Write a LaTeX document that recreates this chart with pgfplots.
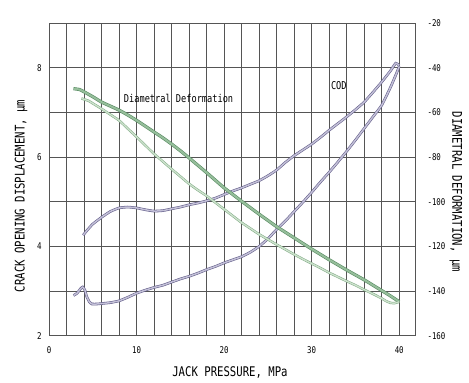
\documentclass[border=0pt]{standalone}
\usepackage{pgfplots}
\pgfplotsset{compat=1.18}
\usepackage{fontspec}
\setmainfont[FakeStretch=0.8]{DejaVu Sans Mono}
\newfontfamily\gfont[FakeStretch=0.8]{DejaVu Sans Mono}
\definecolor{codc}{RGB}{95,90,135}
\definecolor{codl}{RGB}{195,192,215}
\definecolor{gdark}{RGB}{88,140,98}
\definecolor{gdl}{RGB}{150,190,155}
\definecolor{glight}{RGB}{125,170,130}
\definecolor{gll}{RGB}{205,225,205}
\definecolor{gridc}{RGB}{85,85,85}
\begin{document}
\begin{tikzpicture}
\begin{axis}[
  scale only axis, width=366bp, height=312.7bp,
  xmin=0, xmax=41.8, ymin=2, ymax=9,
  xtick={0,10,20,30,40}, minor xtick={2,4,6,8,12,14,16,18,22,24,26,28,32,34,36,38,40},
  ytick={2,4,6,8}, minor ytick={3,5,7},
  major tick length=0pt, minor tick length=0pt,
  grid=both,
  major grid style={draw=gridc, line width=0.6bp},
  minor grid style={draw=gridc, line width=0.6bp},
  axis line style={draw=gridc, line width=0.7bp},
  /pgf/number format/assume math mode=true,
  xticklabel style={font=\gfont\fontsize{9.3bp}{10bp}\selectfont, anchor=center, yshift=-14.3bp},
  yticklabel style={font=\gfont\fontsize{9.3bp}{10bp}\selectfont, anchor=center, xshift=-9.7bp},
  xlabel={JACK PRESSURE, MPa},
  xlabel style={font=\gfont\fontsize{13.3bp}{14bp}\selectfont, at={([yshift=-36.3bp]rel axis cs:0.4945,0)}, anchor=center},
  ylabel={CRACK OPENING DISPLACEMENT, µm},
  ylabel style={font=\gfont\fontsize{13.3bp}{14bp}\selectfont, at={([xshift=-28bp]rel axis cs:0,0.447)}, anchor=center},
  clip=true,
]
\addplot[draw=codc, line width=0.55bp, double=codl, double distance=1.5bp, smooth, tension=0.3] coordinates {
(2.8,2.90)(3.2,2.95)(3.6,3.05)(3.85,3.09)(4.1,3.02)(4.3,2.88)(4.6,2.76)(4.9,2.71)(5.5,2.71)(6,2.72)(7,2.74)(8,2.78)(9,2.86)(10,2.95)(11,3.02)(12,3.08)(13,3.13)(14,3.20)(15,3.27)(16,3.33)(17,3.40)(18,3.48)(19,3.55)(20,3.63)(21,3.70)(22,3.77)(23,3.87)(24,4.00)(25,4.17)(26,4.38)(27,4.57)(28,4.78)(29,4.99)(30,5.21)(31,5.44)(32,5.66)(33,5.89)(34,6.13)(35,6.38)(36,6.64)(37,6.90)(38,7.16)(39,7.56)(39.7,7.88)(40,8.03)
};
\addplot[draw=codc, line width=0.55bp, double=codl, double distance=1.5bp, smooth, tension=0.3] coordinates {
(40,8.05)(39.6,8.10)(39,7.93)(38,7.68)(37,7.45)(36,7.23)(35,7.06)(34,6.90)(33,6.75)(32,6.60)(31,6.44)(30,6.29)(29,6.16)(28,6.03)(27,5.88)(26,5.71)(25,5.58)(24,5.47)(23,5.39)(22,5.31)(21,5.24)(20,5.16)(19,5.08)(18,5.02)(17,4.97)(16,4.93)(15,4.88)(14,4.84)(13,4.80)(12,4.79)(11,4.82)(10,4.86)(9,4.88)(8,4.86)(7,4.78)(6,4.65)(5,4.50)(4.4,4.37)(3.9,4.25)
};
\node[font=\gfont\fontsize{10.8bp}{11bp}\selectfont] at (axis cs:14.8,7.31) {Diametral Deformation};
\node[font=\gfont\fontsize{10.8bp}{11bp}\selectfont] at (axis cs:33.1,7.61) {COD};
\node[font=\gfont\fontsize{8.9bp}{9bp}\selectfont, anchor=east, text=black!70] at ([xshift=-2bp,yshift=8bp]rel axis cs:1,1) {2nd Loading 029};
\end{axis}
\begin{axis}[
  scale only axis, width=366bp, height=312.7bp,
  xmin=0, xmax=41.8, ymin=-160, ymax=-20,
  axis x line=none, axis y line*=right,
  axis line style={draw=none},
  ytick={-20,-40,-60,-80,-100,-120,-140,-160},
  major tick length=0pt,
  /pgf/number format/assume math mode=true,
  yticklabel style={font=\gfont\fontsize{9.3bp}{10bp}\selectfont, anchor=west, xshift=9bp},
  ylabel={DIAMETRAL DEFORMATION, µm},
  ylabel style={font=\gfont\fontsize{13.3bp}{14bp}\selectfont, at={([xshift=41bp]rel axis cs:1,0.46)}, anchor=center, rotate=180},
]
\addplot[draw=gdark, line width=0.6bp, double=gdl, double distance=2.0bp, smooth, tension=0.3] coordinates {
(2.8,-49.4)(3.5,-49.8)(4,-50.8)(5,-53.0)(6,-55.4)(7,-57.2)(8,-59.0)(9,-61.2)(10,-63.6)(11,-66.2)(12,-68.8)(13,-71.4)(14,-74.2)(15,-77.2)(16,-80.4)(17,-83.7)(18,-87.0)(19,-90.4)(20,-93.8)(21,-96.8)(22,-99.8)(23,-102.7)(24,-105.6)(25,-108.4)(26,-111.2)(27,-113.7)(28,-116.2)(29,-118.7)(30,-121.2)(31,-123.6)(32,-126.0)(33,-128.3)(34,-130.6)(35,-132.8)(36,-135.0)(37,-137.4)(38,-139.8)(39,-142.2)(40,-144.8)
};
\addplot[draw=glight, line width=0.5bp, double=gll, double distance=1.4bp, smooth, tension=0.3] coordinates {
(40,-144.8)(39.5,-145.4)(39,-145.3)(38.5,-144.5)(38,-143.3)(37,-141.3)(36,-139.4)(35,-137.4)(34,-135.6)(33,-133.7)(32,-131.8)(31,-129.7)(30,-127.7)(29,-125.7)(28,-123.6)(27,-121.4)(26,-119.2)(25,-116.9)(24,-114.6)(23,-112.0)(22,-109.4)(21,-106.4)(20,-103.4)(19,-100.4)(18,-97.4)(17,-94.8)(16,-92.0)(15,-88.7)(14,-85.4)(13,-82.0)(12,-78.6)(11,-74.8)(10,-71.0)(9,-67.3)(8,-63.6)(7,-61.0)(6,-58.4)(5,-56.0)(4.5,-54.8)(3.7,-53.8)
};
\end{axis}
\pgfresetboundingbox
\path[use as bounding box] (-49bp,-47.3bp) rectangle (420bp,335.7bp);
\end{tikzpicture}
\end{document}
